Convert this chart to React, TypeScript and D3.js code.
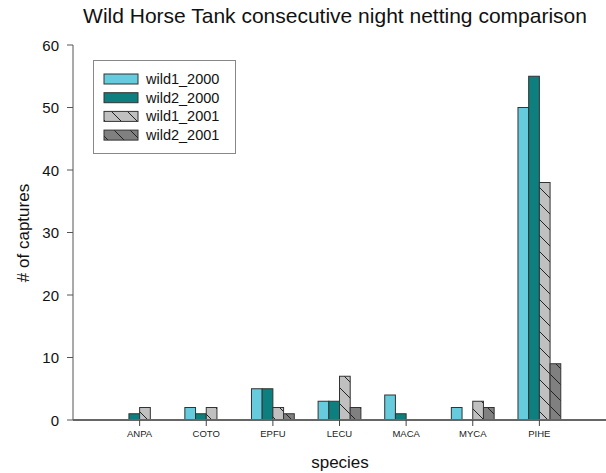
import React from "react";
import * as d3 from "d3";

// Capture counts per species for each netting night
const species = ["ANPA", "COTO", "EPFU", "LECU", "MACA", "MYCA", "PIHE"];
const seriesNames = ["wild1_2000", "wild2_2000", "wild1_2001", "wild2_2001"];
const wild1_2000 = [0, 2, 5, 3, 4, 2, 50];
const wild2_2000 = [1, 1, 5, 3, 1, 0, 55];
const wild1_2001 = [2, 2, 2, 7, 0, 3, 38];
const wild2_2001 = [0, 0, 1, 2, 0, 2, 9];
const yTicks = [0, 10, 20, 30, 40, 50, 60];

const seriesValues = [wild1_2000, wild2_2000, wild1_2001, wild2_2001];
const fills = ["#66CCDD", "#0E7F7F", "url(#hatchLight)", "url(#hatchDark)"];

const W = 606;
const H = 473;
const FONT = "'Liberation Sans', Arial, Helvetica, sans-serif";

export default function App() {
  const x = d3.scaleLinear().domain([0, species.length + 1]).range([73, 606]);
  const y = d3.scaleLinear().domain([0, 60]).range([420, 45]);
  const groupHalf = 21.4;
  const inner = d3.scaleBand<string>().domain(seriesNames).range([-groupHalf, groupHalf]);

  return (
    <svg
      width={W}
      height={H}
      style={{ position: "absolute", left: 0, top: 0, background: "#fff" }}
      fontFamily={FONT}
    >
      <defs>
        <pattern id="hatchLight" patternUnits="userSpaceOnUse" width={16} height={16}>
          <rect width={16} height={16} fill="#C0C0C0" />
          <path d="M0,0 L16,16 M-4,12 L4,20 M12,-4 L20,4" stroke="#222" strokeWidth={1} />
        </pattern>
        <pattern id="hatchDark" patternUnits="userSpaceOnUse" width={16} height={16}>
          <rect width={16} height={16} fill="#808080" />
          <path d="M0,0 L16,16 M-4,12 L4,20 M12,-4 L20,4" stroke="#222" strokeWidth={1} />
        </pattern>
      </defs>

      <text x={335} y={23} textAnchor="middle" fontSize={21} fill="#111">
        Wild Horse Tank consecutive night netting comparison
      </text>

      {/* bars */}
      {species.map((sp, i) => (
        <g key={sp}>
          {seriesNames.map((s, k) => {
            const v = seriesValues[k][i];
            if (v <= 0) return null;
            const x0 = x(i + 1) + (inner(s) as number);
            return (
              <rect
                key={s}
                x={x0}
                y={y(v)}
                width={inner.bandwidth()}
                height={y(0) - y(v)}
                fill={fills[k]}
                stroke="#333"
                strokeWidth={1}
              />
            );
          })}
        </g>
      ))}

      {/* y axis */}
      <line x1={73} x2={73} y1={y(60)} y2={y(0)} stroke="#555" strokeWidth={1} />
      {yTicks.map((t) => (
        <g key={t}>
          <line x1={67} x2={73} y1={y(t)} y2={y(t)} stroke="#555" />
          <text x={59} y={y(t) + 5.5} textAnchor="end" fontSize={15} fill="#111">
            {t}
          </text>
        </g>
      ))}

      {/* x axis */}
      <line x1={73} x2={606} y1={y(0)} y2={y(0)} stroke="#666" strokeWidth={2} />
      {species.map((sp, i) => (
        <g key={sp}>
          <line x1={x(i + 1)} x2={x(i + 1)} y1={y(0)} y2={y(0) + 6} stroke="#444" />
          <text x={x(i + 1)} y={437} textAnchor="middle" fontSize={9.5} fill="#222">
            {sp}
          </text>
        </g>
      ))}

      <text x={340} y={468} textAnchor="middle" fontSize={17} fill="#111">
        species
      </text>
      <text
        transform={`translate(29,233) rotate(-90)`}
        textAnchor="middle"
        fontSize={17}
        fill="#111"
      >
        # of captures
      </text>

      {/* legend */}
      <rect x={93.5} y={60.5} width={142} height={93} fill="#fff" stroke="#888" strokeWidth={1} />
      {seriesNames.map((s, k) => {
        const cy = 79 + k * 18.7;
        return (
          <g key={s}>
            <rect x={104} y={cy - 5} width={34} height={10} fill={fills[k]} stroke="#333" />
            <text x={146} y={cy + 5} fontSize={14.5} fill="#111">
              {s}
            </text>
          </g>
        );
      })}
    </svg>
  );
}
